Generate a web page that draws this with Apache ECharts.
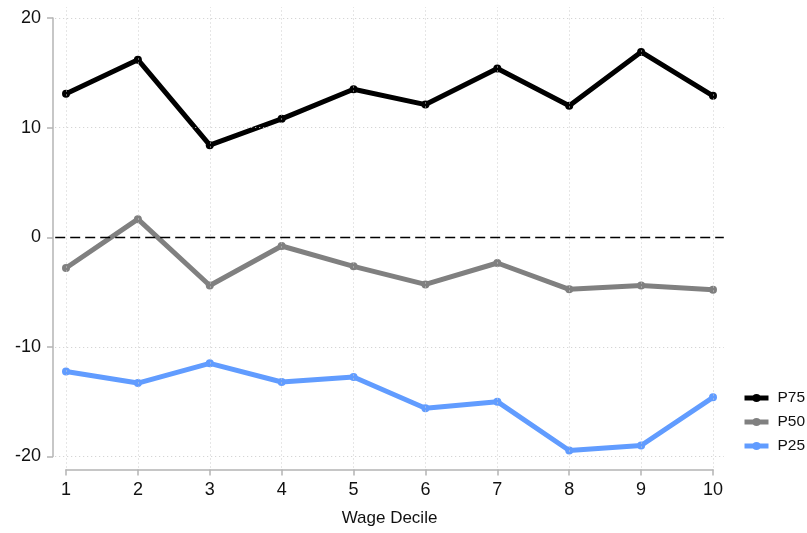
<!DOCTYPE html>
<html>
<head>
<meta charset="utf-8">
<script src="https://cdn.jsdelivr.net/npm/echarts@6/dist/echarts.min.js"></script>
<style>
  html, body { margin: 0; padding: 0; background: #fff; }
  #chart { width: 807px; height: 533px; }
</style>
</head>
<body>
<div id="chart"></div>
<script>
// 数据
const deciles = [1, 2, 3, 4, 5, 6, 7, 8, 9, 10];
const p75 = [13.1, 16.2, 8.4, 10.8, 13.5, 12.1, 15.4, 12.0, 16.9, 12.9];
const p50 = [-2.8, 1.65, -4.4, -0.8, -2.65, -4.3, -2.35, -4.75, -4.4, -4.8];
const p25 = [-12.25, -13.3, -11.5, -13.2, -12.75, -15.6, -15.0, -19.45, -19.0, -14.6];
const yTicks = [-20, -10, 10, 20];

const chart = echarts.init(document.getElementById('chart'));
const font = 'Liberation Sans, Arial, sans-serif';

const pairs = (vals) => deciles.map((d, i) => [d, vals[i]]);

// 网格线 (虚点线) 用 markLine 画在外框 grid 上
const dotted = { color: '#cccccc', width: 1, type: [1, 3] };
const gridLines = [
    ...deciles.map(d => ({ xAxis: d, lineStyle: dotted })),
    ...yTicks.map(v => ({ yAxis: v, lineStyle: dotted })),
    { yAxis: 0, lineStyle: { color: '#000', width: 1.3, type: [10, 5] } }
];

const lineSeries = (name, vals, color) => ({
    name,
    type: 'line',
    xAxisIndex: 1,
    yAxisIndex: 1,
    data: pairs(vals),
    symbol: 'circle',
    symbolSize: 8,
    itemStyle: { color, borderWidth: 0 },
    lineStyle: { color, width: 5 },
    animation: false,
    z: 3
});

chart.setOption({
    backgroundColor: '#fff',
    textStyle: { fontFamily: font },
    grid: [
        { left: 55.2, right: 83.2, top: 7, bottom: 65.5 },
        { left: 66, right: 94, top: 18, bottom: 76.5 }
    ],
    legend: {
        orient: 'vertical',
        left: 742,
        top: 390,
        padding: 0,
        itemWidth: 24,
        itemHeight: 10,
        itemGap: 8,
        lineStyle: { width: 5 },
        textStyle: { fontSize: 15.5, color: '#111', fontFamily: font, padding: [0, 0, 0, 4] },
        data: ['P75', 'P50', 'P25']
    },
    xAxis: [
        { gridIndex: 0, type: 'value', min: 0.85, max: 10.15, show: false },
        {
            gridIndex: 1, type: 'value', min: 1, max: 10, interval: 1,
            offset: 13,
            name: 'Wage Decile', nameLocation: 'middle', nameGap: 40,
            nameTextStyle: { fontSize: 17, color: '#111', fontFamily: font },
            axisLine: { onZero: false, lineStyle: { color: '#b4b4b4', width: 1.5 } },
            axisTick: { length: 6, lineStyle: { color: '#b4b4b4', width: 1.5 } },
            axisLabel: { fontSize: 18, color: '#111', margin: 12 },
            splitLine: { show: false }
        }
    ],
    yAxis: [
        { gridIndex: 0, type: 'value', min: -21, max: 21, show: false },
        {
            gridIndex: 1, type: 'value', min: -20, max: 20, interval: 10,
            offset: 13,
            axisLine: { show: true, onZero: false, lineStyle: { color: '#b4b4b4', width: 1.5 } },
            axisTick: { show: true, length: 6, lineStyle: { color: '#b4b4b4', width: 1.5 } },
            axisLabel: { fontSize: 18, color: '#111', margin: 12 },
            splitLine: { show: false }
        }
    ],
    series: [
        {
            name: 'grid',
            type: 'line',
            xAxisIndex: 0,
            yAxisIndex: 0,
            data: [],
            silent: true,
            animation: false,
            z: 1,
            markLine: {
                silent: true,
                animation: false,
                symbol: ['none', 'none'],
                label: { show: false },
                data: gridLines
            }
        },
        lineSeries('P75', p75, '#000000'),
        lineSeries('P50', p50, '#808080'),
        lineSeries('P25', p25, '#619cff')
    ]
});
</script>
</body>
</html>
